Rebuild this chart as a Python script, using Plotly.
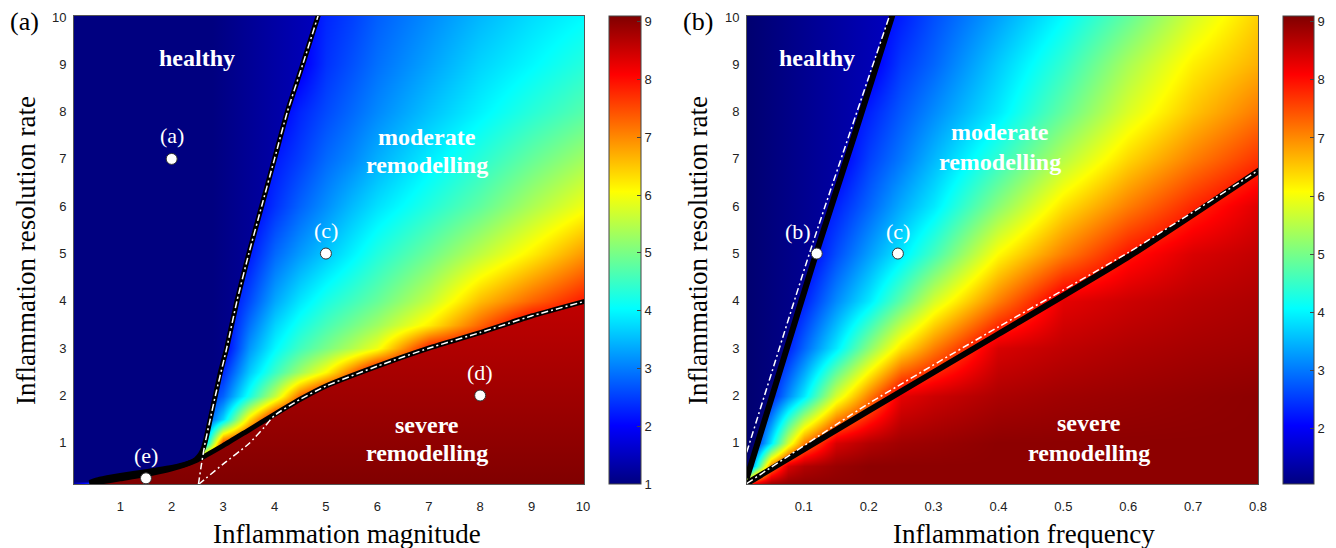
import plotly.graph_objects as go

JET = [[0.0, '#000080'], [0.125, '#0000ff'], [0.375, '#00ffff'],
       [0.625, '#ffff00'], [0.875, '#ff0000'], [1.0, '#800000']]

# ---------------- panel (a): magnitude vs resolution rate ----------------
mag = [0.0, 1, 2, 2.5, 3, 3.5, 4, 4.5, 5, 5.5, 6, 7, 8, 9, 10.1]
rate_a = [0.0, 0.3, 0.6, 1, 1.5, 2, 2.5, 3, 3.5, 4, 5, 6, 7, 8, 9, 10.1]
z_a = [
    [1.0, 8.0, 8.5, 8.6, 8.7, 8.8, 8.8, 8.9, 8.9, 8.9, 9.0, 9.0, 9.0, 9.0, 9.0],
    [1.0, 1.0, 8.3, 8.5, 8.6, 8.7, 8.8, 8.8, 8.9, 8.9, 8.9, 9.0, 9.0, 9.0, 9.0],
    [1.0, 1.0, 1.0, 8.1, 8.5, 8.6, 8.7, 8.75, 8.8, 8.85, 8.9, 8.9, 9.0, 9.0, 9.0],
    [1.0, 1.0, 1.0, 1.9, 7.6, 8.4, 8.5, 8.6, 8.7, 8.75, 8.8, 8.85, 8.9, 8.9, 8.9],
    [1.0, 1.0, 1.0, 1.9, 3.7, 6.3, 8.2, 8.45, 8.55, 8.6, 8.7, 8.75, 8.8, 8.85, 8.85],
    [1.0, 1.0, 1.0, 1.9, 2.8, 4.2, 5.6, 7.3, 8.35, 8.5, 8.6, 8.7, 8.8, 8.85, 8.9],
    [1.0, 1.0, 1.0, 1.9, 2.35, 3.6, 4.5, 5.3, 6.1, 7.2, 8.3, 8.55, 8.7, 8.75, 8.8],
    [1.0, 1.0, 1.0, 1.1, 1.9, 3.2, 4.0, 4.55, 5.0, 5.45, 5.95, 7.9, 8.4, 8.55, 8.6],
    [1.0, 1.0, 1.0, 1.1, 1.9, 2.9, 3.7, 4.2, 4.6, 4.95, 5.3, 6.2, 7.3, 8.35, 8.5],
    [1.0, 1.0, 1.0, 1.1, 1.9, 2.6, 3.35, 3.85, 4.25, 4.55, 4.85, 5.6, 6.6, 7.3, 7.95],
    [1.0, 1.0, 1.0, 1.1, 1.9, 2.2, 2.85, 3.25, 3.6, 3.95, 4.3, 4.9, 5.55, 6.2, 6.95],
    [1.0, 1.0, 1.0, 1.1, 1.2, 1.9, 2.4, 2.8, 3.15, 3.5, 3.8, 4.3, 4.8, 5.4, 6.0],
    [1.0, 1.0, 1.0, 1.1, 1.2, 1.9, 2.2, 2.5, 2.85, 3.1, 3.4, 3.9, 4.35, 4.85, 5.35],
    [1.0, 1.0, 1.0, 1.1, 1.2, 1.3, 1.9, 2.3, 2.6, 2.85, 3.1, 3.55, 3.95, 4.35, 4.75],
    [1.0, 1.0, 1.0, 1.1, 1.2, 1.3, 1.4, 1.9, 2.4, 2.65, 2.9, 3.3, 3.7, 4.0, 4.35],
    [1.0, 1.0, 1.0, 1.1, 1.2, 1.3, 1.4, 1.9, 2.3, 2.5, 2.75, 3.1, 3.45, 3.75, 4.0],
]
upper_a_x = [4.87, 4.55, 4.25, 4.0, 3.75, 3.5, 3.27, 3.07, 2.95, 2.85, 2.75, 2.67,
             2.62, 2.56, 2.47, 2.33, 2.1, 1.5, 1.0, 0.6, 0.4]
upper_a_y = [10.1, 9, 8, 7, 6, 5, 4, 3, 2.5, 2, 1.5, 1.1,
             0.9, 0.76, 0.65, 0.57, 0.5, 0.39, 0.31, 0.23, 0.16]
lower_a_x = [10.1, 9, 8, 7, 6, 5, 4.5, 4, 3.5, 3, 2.5, 2.0, 1.5, 1.0, 0.6, 0.4]
lower_a_y = [4.01, 3.68, 3.33, 3.0, 2.62, 2.2, 1.92, 1.6, 1.27, 0.94, 0.64, 0.45,
             0.33, 0.24, 0.17, 0.13]
wup_a_x = [2.52, 2.58, 2.65, 2.75, 2.85, 3.07, 3.27, 3.5, 3.75, 4.0, 4.25, 4.55, 4.87]
wup_a_y = [0.12, 0.55, 1.0, 1.5, 2.0, 3.0, 4.0, 5.0, 6.0, 7.0, 8.0, 9.0, 10.1]
wlo_a_x = [2.52, 3.0, 3.5, 3.8, 4.0, 4.5, 5, 6, 7, 8, 9, 10.1]
wlo_a_y = [0.12, 0.55, 0.98, 1.33, 1.58, 1.92, 2.2, 2.62, 3.0, 3.33, 3.68, 4.01]
pts_a_x = [2, 5, 8, 1.5]
pts_a_y = [7, 5, 2, 0.25]
pts_a_lab = ['(a)', '(c)', '(d)', '(e)']

# ---------------- panel (b): frequency vs resolution rate ----------------
freq = [0.01, 0.025, 0.05, 0.075, 0.1, 0.15, 0.2, 0.25, 0.3, 0.4, 0.5, 0.6, 0.7, 0.81]
rate_b = [0.1, 0.5, 1, 2, 3, 4, 5, 6, 7, 8, 9, 10.1]
z_b = [
    [7.1, 8.7, 9.0, 9.0, 9.0, 9.0, 9.0, 9.0, 9.0, 9.0, 9.0, 9.0, 9.0, 9.0],
    [1.55, 3.9, 7.1, 8.4, 8.7, 8.9, 9.0, 9.0, 9.0, 9.0, 9.0, 9.0, 9.0, 9.0],
    [1.9, 2.3, 3.9, 5.75, 7.1, 8.4, 8.7, 8.85, 8.9, 9.0, 9.0, 9.0, 9.0, 9.0],
    [1.1, 1.9, 2.3, 3.15, 3.9, 5.75, 7.1, 8.3, 8.5, 8.75, 8.85, 8.9, 8.95, 9.0],
    [1.0, 1.25, 1.9, 2.3, 2.85, 3.9, 5.15, 6.3, 7.1, 8.4, 8.6, 8.72, 8.8, 8.85],
    [1.0, 1.14, 1.38, 1.9, 2.3, 3.15, 3.9, 4.8, 5.75, 7.1, 8.3, 8.5, 8.65, 8.75],
    [0.95, 1.1, 1.3, 1.44, 1.9, 2.65, 3.3, 3.9, 4.6, 6.1, 7.1, 7.95, 8.4, 8.6],
    [0.9, 1.05, 1.25, 1.38, 1.9, 2.3, 2.85, 3.4, 3.9, 5.15, 6.3, 7.1, 7.8, 8.4],
    [0.9, 1.0, 1.17, 1.32, 1.42, 1.9, 2.55, 3.0, 3.5, 4.45, 5.5, 6.4, 7.1, 7.75],
    [0.9, 1.0, 1.14, 1.28, 1.38, 1.9, 2.3, 2.75, 3.15, 3.9, 4.85, 5.8, 6.55, 7.2],
    [0.9, 1.0, 1.12, 1.25, 1.33, 1.48, 1.9, 2.5, 2.85, 3.65, 4.45, 5.4, 6.2, 6.75],
    [0.9, 1.0, 1.1, 1.2, 1.3, 1.44, 1.9, 2.25, 2.65, 3.3, 4.0, 4.8, 5.7, 6.5],
]
upper_b_x = [0.012, 0.065, 0.119, 0.178, 0.238]
upper_b_y = [0.25, 2.6, 5.0, 7.5, 10.1]
lower_b_x = [0.012, 0.2, 0.4, 0.6, 0.81]
lower_b_y = [0.14, 1.68, 3.3, 4.93, 6.83]
wup_b_x = [0.012, 0.111, 0.234]
wup_b_y = [0.8, 5.1, 10.1]
wlo_b_x = [0.012, 0.2, 0.4, 0.6, 0.81]
wlo_b_y = [0.14, 1.83, 3.45, 5.02, 6.84]
pts_b_x = [0.12, 0.245]
pts_b_y = [5, 5]
pts_b_lab = ['(b)', '(c)']

W, H = 1336, 548
SERIF = 'Liberation Serif'
SANS = 'Liberation Sans'


def px(X):
    return X / W


def py(Y):
    return 1 - Y / H


fig = go.Figure()

fig.add_trace(go.Heatmap(
    x=mag, y=rate_a, z=z_a, zsmooth='best', colorscale=JET, zmin=1.0, zmax=9.1,
    xaxis='x', yaxis='y', hoverinfo='skip',
    colorbar=dict(x=px(609), xanchor='left', xpad=0, y=py(16), yanchor='top', ypad=0,
                  len=468, lenmode='pixels', thickness=32, thicknessmode='pixels',
                  outlinewidth=1, outlinecolor='#444', tickvals=list(range(1, 10)),
                  ticks='inside', ticklen=4, tickcolor='#444',
                  tickfont=dict(family=SANS, size=13, color='#222'))))

fig.add_trace(go.Heatmap(
    x=freq, y=rate_b, z=z_b, zsmooth='best', colorscale=JET, zmin=1.04, zmax=9.1,
    xaxis='x2', yaxis='y2', hoverinfo='skip',
    colorbar=dict(x=px(1283), xanchor='left', xpad=0, y=py(16), yanchor='top', ypad=0,
                  len=468, lenmode='pixels', thickness=31, thicknessmode='pixels',
                  outlinewidth=1, outlinecolor='#444', tickvals=list(range(2, 10)),
                  ticks='inside', ticklen=4, tickcolor='#444',
                  tickfont=dict(family=SANS, size=13, color='#222'))))

# region fills
fig.add_trace(go.Scatter(x=upper_a_x, y=upper_a_y, mode='lines', fill='tozerox',
                         line=dict(width=0), xaxis='x', yaxis='y', hoverinfo='skip',
                         fillgradient=dict(type='horizontal', start=2.8, stop=4.9,
                                           colorscale=[[0, '#000080'], [1, '#0000bf']])))
fig.add_trace(go.Scatter(x=lower_a_x, y=lower_a_y, mode='lines', fill='tozeroy',
                         line=dict(width=0), xaxis='x', yaxis='y', hoverinfo='skip',
                         fillgradient=dict(type='vertical', start=0.1, stop=4.0,
                                           colorscale=[[0, '#800000'], [1, '#c00000']])))
fig.add_trace(go.Scatter(x=upper_b_x, y=upper_b_y, mode='lines', fill='tozerox',
                         line=dict(width=0), xaxis='x2', yaxis='y2', hoverinfo='skip',
                         fillgradient=dict(type='horizontal', start=0.0125, stop=0.235,
                                           colorscale=[[0, '#000070'], [1, '#0000bf']])))

# boundary lines
DASH = '7px,3px,2px,3px'
for xs, ys, ax, ay, w in [(upper_a_x, upper_a_y, 'x', 'y', 5), (lower_a_x, lower_a_y, 'x', 'y', 5),
                          (upper_b_x, upper_b_y, 'x2', 'y2', 6), (lower_b_x, lower_b_y, 'x2', 'y2', 6)]:
    fig.add_trace(go.Scatter(x=xs, y=ys, mode='lines',
                             line=dict(color='black', width=w, shape='spline', smoothing=0.5),
                             xaxis=ax, yaxis=ay, hoverinfo='skip'))
for xs, ys, ax, ay in [(wup_a_x, wup_a_y, 'x', 'y'), (wlo_a_x, wlo_a_y, 'x', 'y'),
                       (wup_b_x, wup_b_y, 'x2', 'y2'), (wlo_b_x, wlo_b_y, 'x2', 'y2')]:
    fig.add_trace(go.Scatter(x=xs, y=ys, mode='lines',
                             line=dict(color='white', width=1.5, dash=DASH, shape='spline',
                                       smoothing=0.5),
                             xaxis=ax, yaxis=ay, hoverinfo='skip'))

# points
for xs, ys, ax, ay in [(pts_a_x, pts_a_y, 'x', 'y'), (pts_b_x, pts_b_y, 'x2', 'y2')]:
    fig.add_trace(go.Scatter(x=xs, y=ys, mode='markers', xaxis=ax, yaxis=ay, hoverinfo='skip',
                             marker=dict(size=11, color='white', line=dict(color='#333', width=1))))

CM = dict(showarrow=False, xanchor='center', yanchor='middle')
ann = []
for xv, yv, t in zip(pts_a_x, pts_a_y, pts_a_lab):
    ann.append(dict(x=xv, y=yv, xref='x', yref='y', text=t, yshift=23,
                    font=dict(family=SERIF, size=22, color='white'), **CM))
for (xv, yv, t), xs in zip(zip(pts_b_x, pts_b_y, pts_b_lab), [-19, 0]):
    ann.append(dict(x=xv, y=yv, xref='x2', yref='y2', text=t, yshift=22, xshift=xs,
                    font=dict(family=SERIF, size=22, color='white'), **CM))

region_labels = [
    ('x', 'y', 2.5, 9.14, 'healthy'),
    ('x', 'y', 6.97, 7.47, 'moderate'), ('x', 'y', 6.97, 6.88, 'remodelling'),
    ('x', 'y', 6.97, 1.38, 'severe'), ('x', 'y', 6.97, 0.79, 'remodelling'),
    ('x2', 'y2', 0.121, 9.14, 'healthy'),
    ('x2', 'y2', 0.402, 7.56, 'moderate'), ('x2', 'y2', 0.402, 6.93, 'remodelling'),
    ('x2', 'y2', 0.54, 1.41, 'severe'), ('x2', 'y2', 0.54, 0.79, 'remodelling'),
]
for ax, ay, xv, yv, t in region_labels:
    ann.append(dict(x=xv, y=yv, xref=ax, yref=ay, text='<b>' + t + '</b>',
                    font=dict(family=SERIF, size=24, color='white'), **CM))

# axis titles & panel letters
ann += [
    dict(x=px(347), y=py(534), xref='paper', yref='paper', text='Inflammation magnitude',
         font=dict(family=SERIF, size=27, color='black'), **CM),
    dict(x=px(1024), y=py(534), xref='paper', yref='paper', text='Inflammation frequency',
         font=dict(family=SERIF, size=27, color='black'), **CM),
    dict(x=px(26), y=py(251), xref='paper', yref='paper', text='Inflammation resolution rate',
         textangle=-90, font=dict(family=SERIF, size=27, color='black'), **CM),
    dict(x=px(698), y=py(251), xref='paper', yref='paper', text='Inflammation resolution rate',
         textangle=-90, font=dict(family=SERIF, size=27, color='black'), **CM),
    dict(x=px(24), y=py(21), xref='paper', yref='paper', text='(a)',
         font=dict(family=SERIF, size=26, color='black'), **CM),
    dict(x=px(698), y=py(21), xref='paper', yref='paper', text='(b)',
         font=dict(family=SERIF, size=26, color='black'), **CM),
]

axis_common = dict(showline=True, mirror=True, linecolor='#555', linewidth=1, showgrid=False,
                   zeroline=False, ticks='outside', tickcolor='rgba(0,0,0,0)',
                   tickfont=dict(family=SANS, size=13, color='#222'))
fig.update_layout(
    width=W, height=H, margin=dict(l=0, r=0, t=0, b=0, pad=0, autoexpand=False),
    paper_bgcolor='white', plot_bgcolor='white', showlegend=False,
    xaxis=dict(domain=[px(74), px(584)], range=[0.1, 10.02], tickvals=list(range(1, 11)),
               anchor='y', ticklen=10, **axis_common),
    yaxis=dict(domain=[py(484), py(16)], range=[0.13, 10.02], tickvals=list(range(1, 11)),
               anchor='x', ticklen=4, **axis_common),
    xaxis2=dict(domain=[px(747), px(1258)], range=[0.0125, 0.8],
                tickvals=[0.1, 0.2, 0.3, 0.4, 0.5, 0.6, 0.7, 0.8], anchor='y2', ticklen=10,
                **axis_common),
    yaxis2=dict(domain=[py(484), py(16)], range=[0.13, 10.02], tickvals=list(range(1, 11)),
                anchor='x2', ticklen=4, **axis_common),
    annotations=ann,
)

fig.write_html('out.html', config={'displayModeBar': False},
               post_script="document.body.style.margin='0px';")
